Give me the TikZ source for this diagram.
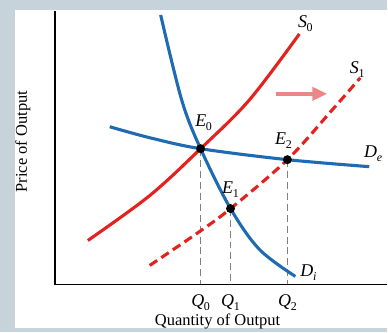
\documentclass[tikz,border=0pt]{standalone}
\usepackage{fontspec}
\setmainfont{Liberation Serif}
\usetikzlibrary{arrows.meta}
\usetikzlibrary{positioning}
\usetikzlibrary{calc}

\definecolor{panelgray}{HTML}{C7D3DB}
\definecolor{supplyred}{HTML}{E3221E}
\definecolor{demandblue}{HTML}{1F6BB3}
\definecolor{shiftpink}{HTML}{EC8789}

% italic letter with a small subscript
\newcommand{\sublab}[2]{\textit{#1}\kern-0.3pt\raisebox{-0.45ex}{\fontsize{12}{12}\selectfont #2}}

\begin{document}
\begin{tikzpicture}[x=1pt, y=-1pt,
    supply/.style={line width=3.1pt, draw=supplyred},
    demand/.style={line width=3.1pt, draw=demandblue},
    drop/.style={draw=gray, line width=0.8pt, dash pattern=on 7pt off 4pt},
    eqdot/.style={circle, fill=black, inner sep=0pt, minimum size=9pt},
    lab/.style={font=\fontsize{18}{20}\selectfont, inner sep=1pt},
    axlab/.style={font=\fontsize{16.5}{18}\selectfont, inner sep=0pt}]

        % Background and white panel
        \fill[panelgray] (0,0) rectangle (388,333);
        \fill[white] (15,10) rectangle (388,329);

        % Axes
        \coordinate (origin) at (55,285);
        \coordinate (ytop) at (55,11);
        \coordinate (xend) at (388,285);
        \draw[line width=1.6pt] (ytop) -- (origin) -- (xend);

        % Equilibrium points
        \coordinate (E0) at (201,149);
        \coordinate (E1) at (231,209);
        \coordinate (E2) at (288,160);

        % Drop lines to the quantity axis
        \draw[drop] (E0) -- (E0 |- origin);
        \draw[drop] (E1) -- (E1 |- origin);
        \draw[drop] (E2) -- (E2 |- origin);

        % Supply curves
        \draw[supply] plot[smooth, tension=0.55] coordinates {(88,241) (150,196) (E0) (250,100) (300,34)};
        \draw[supply, dash pattern=on 9pt off 5pt] plot[smooth, tension=0.55] coordinates {(150,266) (200,232) (E1) (E2) (333,110) (361,78)};

        % Demand curves
        \draw[demand] plot[smooth, tension=0.55] coordinates {(161,15) (182,100) (E0) (E1) (260,250) (296,277)};
        \draw[demand] plot[smooth, tension=0.55] coordinates {(110,127) (150,138) (E0) (E2) (370,167)};

        % Shift of supply
        \coordinate (shiftfrom) at (277,94);
        \coordinate (shiftto) at (328,94);
        \draw[shiftpink, line width=4.5pt, -{Triangle[length=15pt, width=13pt]}] (shiftfrom) -- (shiftto);

        % Dots
        \node[eqdot] (e0dot) at (E0) {};
        \node[eqdot] (e1dot) at (E1) {};
        \node[eqdot] (e2dot) at (E2) {};

        % Curve and point labels
        \node[lab] (s0lab) at (306,24) {\sublab{S}{0}};
        \node[lab] (s1lab) at (358,70) {\sublab{S}{1}};
        \node[lab] (delab) at (374,154) {\sublab{D}{\textit{e}}};
        \node[lab] (dilab) at (309,273) {\sublab{D}{\textit{i}}};
        \node[lab] (e0lab) at (204,123) {\sublab{E}{0}};
        \node[lab] (e1lab) at (231,190) {\sublab{E}{1}};
        \node[lab] (e2lab) at (284,141) {\sublab{E}{2}};

        % Quantity labels
        \node[lab] (q0lab) at (E0 |- 0,303) {\sublab{Q}{0}};
        \node[lab] (q1lab) at (E1 |- 0,303) {\sublab{Q}{1}};
        \node[lab] (q2lab) at (E2 |- 0,303) {\sublab{Q}{2}};

        % Axis titles
        \node[axlab] (xtitle) at (218,322) {Quantity of Output};
        \node[axlab, rotate=90] (ytitle) at (23,142) {Price of Output};

      \end{tikzpicture}
\end{document}
